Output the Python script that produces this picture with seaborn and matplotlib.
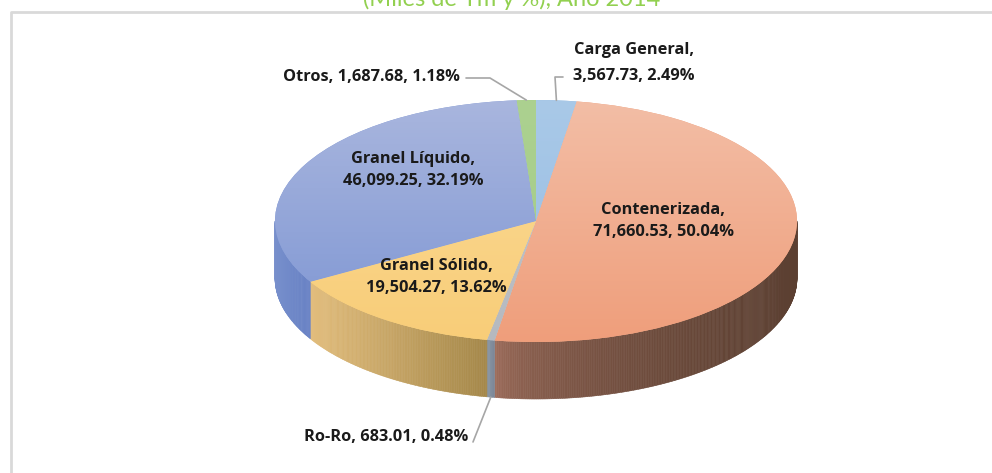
import numpy as np
import matplotlib.pyplot as plt
import matplotlib.colors as mcolors
from matplotlib.collections import PolyCollection
from matplotlib.lines import Line2D
import seaborn as sns

# Carga por tipo, Año 2014 (miles de Tm)
categorias = ["Carga General", "Contenerizada", "Ro-Ro", "Granel Sólido", "Granel Líquido", "Otros"]
toneladas = [3567.73, 71660.53, 683.01, 19504.27, 46099.25, 1687.68]
porcentajes = [2.49, 50.04, 0.48, 13.62, 32.19, 1.18]

# top face gradient (light -> dark) and side gradient (left -> right)
top_claro = ["#a9c9e8", "#f3bea6", "#c6c9cd", "#fcdb98", "#a9b6de", "#acd190"]
top_oscuro = ["#97bce2", "#ef9e7b", "#b5b9bf", "#f8cd78", "#7d95d3", "#a2cb86"]
lado_claro = ["#7c9cc0", "#a57260", "#8c98a6", "#e2bd7c", "#7890cc", "#8fb070"]
lado_oscuro = ["#6a88ab", "#5b3f31", "#7a8595", "#a5884a", "#6680c4", "#7f9f60"]

sns.set_theme(style="white")
plt.rcParams["font.family"] = ["Open Sans", "DejaVu Sans"]

W, H = 992, 473
fig = plt.figure(figsize=(W / 100, H / 100), dpi=100)
ax = fig.add_axes([0, 0, 1, 1])

# pixel geometry of the tilted pie
cx, cy, rx, ry, depth = 536, 221, 261, 121, 57
d = depth / ry


def px(x, y):
    return (x - cx) / rx, (cy - y) / ry


wedges, _ = ax.pie(toneladas, startangle=90, counterclock=False,
                   colors=top_oscuro, wedgeprops=dict(linewidth=0))

# vertical gradient on each top face
grad = np.linspace(0, 1, 256).reshape(-1, 1)
for w, c1, c2 in zip(wedges, top_claro, top_oscuro):
    w.set_zorder(2)
    cmap = mcolors.LinearSegmentedColormap.from_list("g", [c1, c2])
    im = ax.imshow(grad, cmap=cmap, extent=(-1, 1, -1, 1), origin="upper",
                   aspect="auto", zorder=3)
    im.set_clip_path(w)

# visible side wall (front half)
for k, (w, c1, c2) in enumerate(zip(wedges, lado_claro, lado_oscuro)):
    a, b = max(w.theta1, -180), min(w.theta2, 0)
    if b <= a:
        continue
    phi = np.radians(np.linspace(a, b, max(3, int((b - a) / 0.4))))
    xs = np.cos(phi)
    polys, cols = [], []
    x0, x1 = xs.min(), xs.max()
    for i in range(len(phi) - 1):
        p1, p2 = phi[i], phi[i + 1]
        polys.append([(np.cos(p1), np.sin(p1)), (np.cos(p2), np.sin(p2)),
                      (np.cos(p2), np.sin(p2) - d), (np.cos(p1), np.sin(p1) - d)])
        t = ((np.cos(p1) + np.cos(p2)) / 2 - x0) / max(x1 - x0, 1e-9)
        t = t ** 0.45 if k == 1 else t
        cols.append(tuple((1 - t) * np.array(mcolors.to_rgb(c1)) + t * np.array(mcolors.to_rgb(c2))))
    ax.add_collection(PolyCollection(polys, facecolors=cols, edgecolors=cols,
                                     linewidths=0.4, zorder=1))

ax.set_aspect("auto")
ax.set_xlim((0 - cx) / rx, (W - cx) / rx)
ax.set_ylim(-(H - cy) / ry, cy / ry)
ax.axis("off")

# labels
fmt = [f"{n},\n{v:,.2f}, {p:.2f}%" for n, v, p in zip(categorias, toneladas, porcentajes)]
lab = dict(fontsize=11.8, fontweight="bold", color="#1a1a1a", linespacing=1.58, zorder=5)
linea = dict(color="#a6a6a6", lw=1.2, zorder=4)

# inside labels
for i, (x, y) in zip([1, 3, 4], [(663, 221), (436, 277), (413, 170)]):
    ax.text(*px(x, y), fmt[i], ha="center", va="center", **lab)

# Carga General (outside, leader line)
mid = np.radians((wedges[0].theta1 + wedges[0].theta2) / 2)
ax.text(*px(573, 63), fmt[0], ha="left", va="center", multialignment="center",
        **{**lab, "linespacing": 1.8})
lx, ly = zip((np.cos(mid), np.sin(mid)), px(555, 77), px(563, 77))
ax.add_line(Line2D(lx, ly, **linea))

# Otros
mid = np.radians((wedges[5].theta1 + wedges[5].theta2) / 2)
ax.text(*px(460, 77), f"{categorias[5]}, {toneladas[5]:,.2f}, {porcentajes[5]:.2f}%",
        ha="right", va="center", **lab)
lx, ly = zip((np.cos(mid), np.sin(mid)), px(490, 78), px(466, 78))
ax.add_line(Line2D(lx, ly, **linea))

# Ro-Ro
mid = np.radians((wedges[2].theta1 + wedges[2].theta2) / 2)
ax.text(*px(468, 437), f"{categorias[2]}, {toneladas[2]:,.2f}, {porcentajes[2]:.2f}%",
        ha="right", va="center", **lab)
lx, ly = zip((np.cos(mid), np.sin(mid) - d), px(473, 442))
ax.add_line(Line2D(lx, ly, **linea))

# chart frame (left and top edges visible)
fig.add_artist(Line2D([11 / W, 11 / W, 1], [0, 1 - 12 / H, 1 - 12 / H],
                      transform=fig.transFigure, color="#d9d9d9", lw=2))

# title, cut by the top edge
fig.text(512 / W, 1 - 6 / H, "(Miles de Tm y %), Año 2014", ha="center",
         va="baseline", fontsize=17, color="#92d050", family=["Lato", "DejaVu Sans"])

fig.savefig("out.png", dpi=100, facecolor="white")
